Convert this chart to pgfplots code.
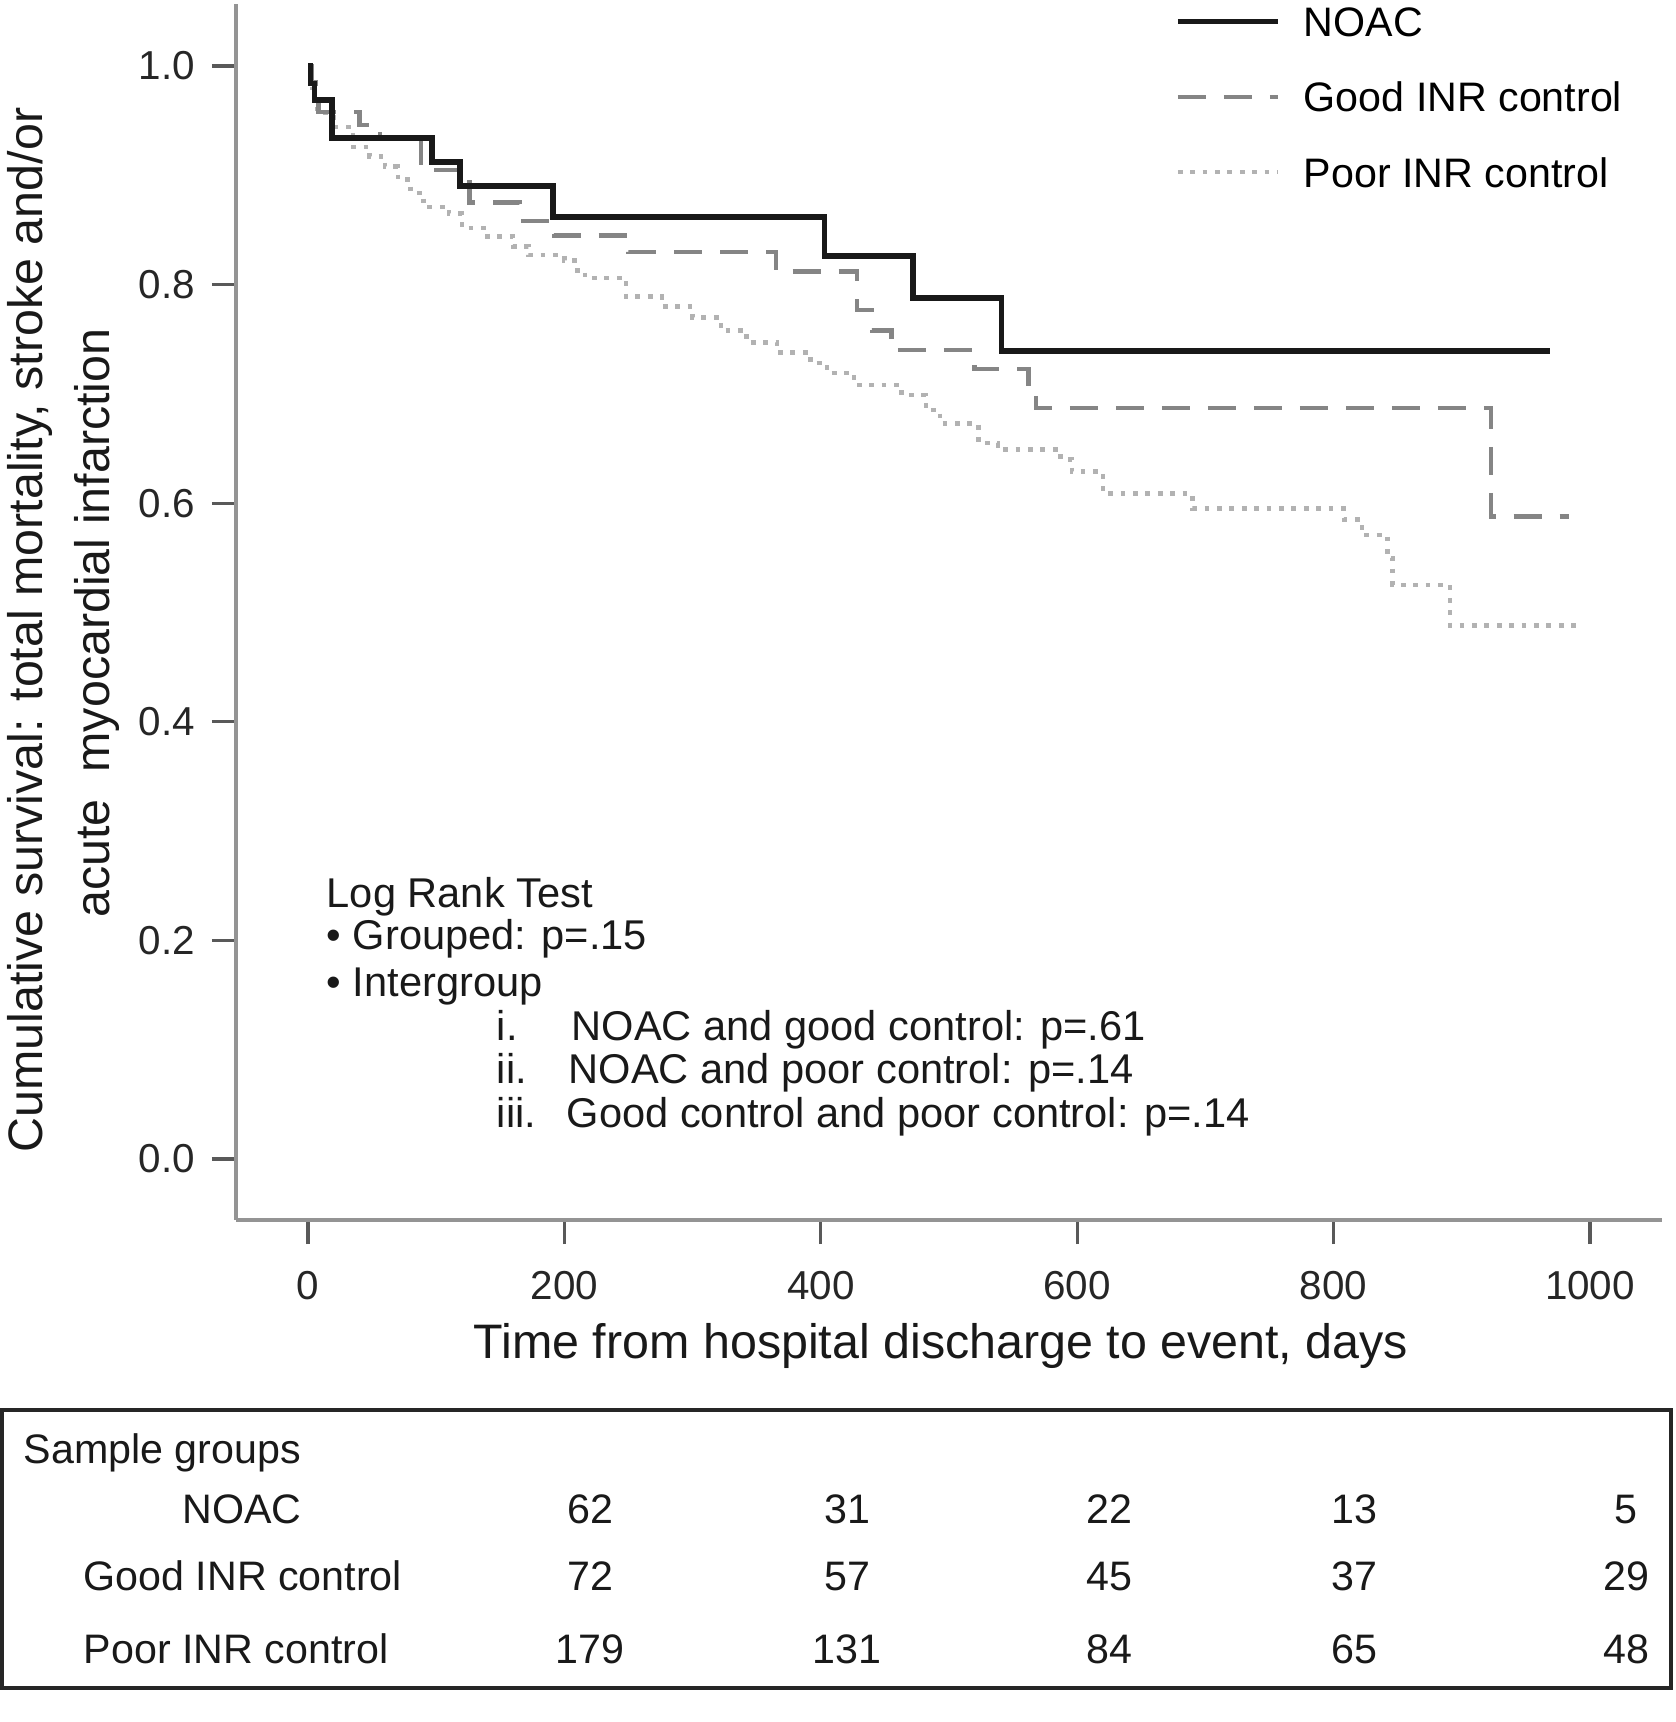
\documentclass[border=0pt]{standalone}
\usepackage{fontspec}
\setmainfont{Liberation Sans}
\usepackage{pgfplots}
\pgfplotsset{compat=1.18}
\usepackage{pgfplotstable}

\pgfplotstableread{
day surv
0 1.0
2 0.984
5 0.969
18.5 0.934
96.5 0.912
118.6 0.890
191 0.862
403 0.826
472 0.788
541 0.739
969 0.739
}\noac

\pgfplotstableread{
day surv
0 1.0
3 0.985
6 0.972
8 0.958
40 0.946
56 0.933
88 0.905
126 0.875
165 0.858
192 0.845
250 0.830
365 0.812
428 0.777
440 0.758
455 0.740
520 0.723
562 0.705
568 0.687
923 0.588
984 0.588
}\good

\pgfplotstableread{
day surv
0 1.0
3 0.98
5 0.97
7 0.957
20 0.944
35 0.926
48 0.917
60 0.908
70 0.896
80 0.884
90 0.871
110 0.865
120 0.852
140 0.844
160 0.835
172 0.827
200 0.822
208 0.813
216 0.806
248 0.789
276 0.780
300 0.770
322 0.758
342 0.747
366 0.738
392 0.728
405 0.719
426 0.708
463 0.699
482 0.685
493 0.673
523 0.655
538 0.649
587 0.640
596 0.629
620 0.609
690 0.595
808 0.585
822 0.571
842 0.550
846 0.525
891 0.488
991 0.488
}\poor

\definecolor{noaccol}{gray}{0.1}
\definecolor{goodcol}{gray}{0.52}
\definecolor{poorcol}{gray}{0.70}
\definecolor{axcol}{gray}{0.58}
\definecolor{tickcol}{gray}{0.35}

\begin{document}
\begin{tikzpicture}
\useasboundingbox (0,0) rectangle (418.75pt,-430.5pt);
\begin{axis}[
  scale only axis, width=356.5pt, height=304pt,
  at={(59pt,-305pt)}, anchor=south west,
  xmin=-56.2, xmax=1056.2, ymin=-0.0558, ymax=1.0567,
  axis x line=bottom, axis y line=left,
  axis line style={-, draw=axcol, line width=1.2pt},
  xtick={0,200,400,600,800,1000}, xticklabels={0,200,400,600,800,1000},
  ytick={0,0.2,0.4,0.6,0.8,1.0}, yticklabels={0.0,0.2,0.4,0.6,0.8,1.0},
  tick align=outside, major tick length=6pt,
  tick style={draw=tickcol, line width=0.8pt},
  ticklabel style={font=\fontsize{10.1pt}{12pt}\selectfont, text=black!85},
  xticklabel style={yshift=-3.2pt},
  yticklabel style={xshift=-0.7pt},
  /pgf/number format/assume math mode=true,
  reverse legend,
  legend cell align=left,
  legend image code/.code={\draw[#1] (0pt,0pt) -- (25pt,0pt);},
  legend style={draw=none, fill=none, at={(0.6585,0.998)}, anchor=north west,
    inner sep=0pt, outer sep=0pt, row sep=11.35pt, column sep=5.8pt,
    font=\fontsize{10.3pt}{12pt}\selectfont,
    nodes={inner sep=0pt, text height=7.5pt, text depth=0pt},
    cells={anchor=west}},
]
\addplot[const plot, no marks, draw=poorcol, line width=1.1pt, dash pattern=on 1.2pt off 1.9pt] table[x=day, y=surv] {\poor};
\addlegendentry{Poor INR control}
\addplot[const plot, no marks, draw=goodcol, line width=1.1pt, dash pattern=on 7pt off 4.5pt] table[x=day, y=surv] {\good};
\addlegendentry{Good INR control}
\addplot[const plot, no marks, draw=noaccol, line width=1.4pt] table[x=day, y=surv] {\noac};
\addlegendentry{NOAC}
\end{axis}

\begin{scope}[x=0.25pt, y=-0.25pt, every node/.style={inner sep=0pt, text=black!90}]
% y label
\node[rotate=90, anchor=center, font=\fontsize{12.1pt}{14pt}\selectfont] at (30,630) {Cumulative survival: total mortality, stroke and/or};
\node[rotate=90, anchor=center, font=\fontsize{12.1pt}{14pt}\selectfont] at (97,623) {acute\ \ myocardial infarction};
% x label
\node[anchor=base, font=\fontsize{12.1pt}{14pt}\selectfont] at (941,1358) {Time from hospital discharge to event, days};
% annotation
\begin{scope}[every node/.append style={anchor=base west, font=\fontsize{10.4pt}{12pt}\selectfont}]
\node at (326,907) {Log Rank Test};
\node at (326,949) {• Grouped: p=.15};
\node at (326,996) {• Intergroup};
\node at (496,1040) {i.};
\node at (571,1040) {NOAC and good control: p=.61};
\node at (496,1083) {ii.};
\node at (568,1083) {NOAC and poor control: p=.14};
\node at (496,1127) {iii.};
\node at (566,1127) {Good control and poor control: p=.14};
\end{scope}
% table
\draw[line width=1.1pt, draw=black!85] (2,1410) rectangle (1671,1688);
\begin{scope}[every node/.append style={font=\fontsize{10.3pt}{12pt}\selectfont}]
\node[anchor=base west] at (23,1463) {Sample groups};
\node[anchor=base] at (242,1523) {NOAC};
\node[anchor=base west] at (83,1590) {Good INR control};
\node[anchor=base west] at (83,1663) {Poor INR control};
\node[anchor=base] at (590,1523) {62};
\node[anchor=base] at (847,1523) {31};
\node[anchor=base] at (1109,1523) {22};
\node[anchor=base] at (1354,1523) {13};
\node[anchor=base] at (1626,1523) {5};
\node[anchor=base] at (590,1590) {72};
\node[anchor=base] at (847,1590) {57};
\node[anchor=base] at (1109,1590) {45};
\node[anchor=base] at (1354,1590) {37};
\node[anchor=base] at (1626,1590) {29};
\node[anchor=base] at (590,1663) {179};
\node[anchor=base] at (847,1663) {131};
\node[anchor=base] at (1109,1663) {84};
\node[anchor=base] at (1354,1663) {65};
\node[anchor=base] at (1626,1663) {48};
\end{scope}
\end{scope}
\end{tikzpicture}
\end{document}
